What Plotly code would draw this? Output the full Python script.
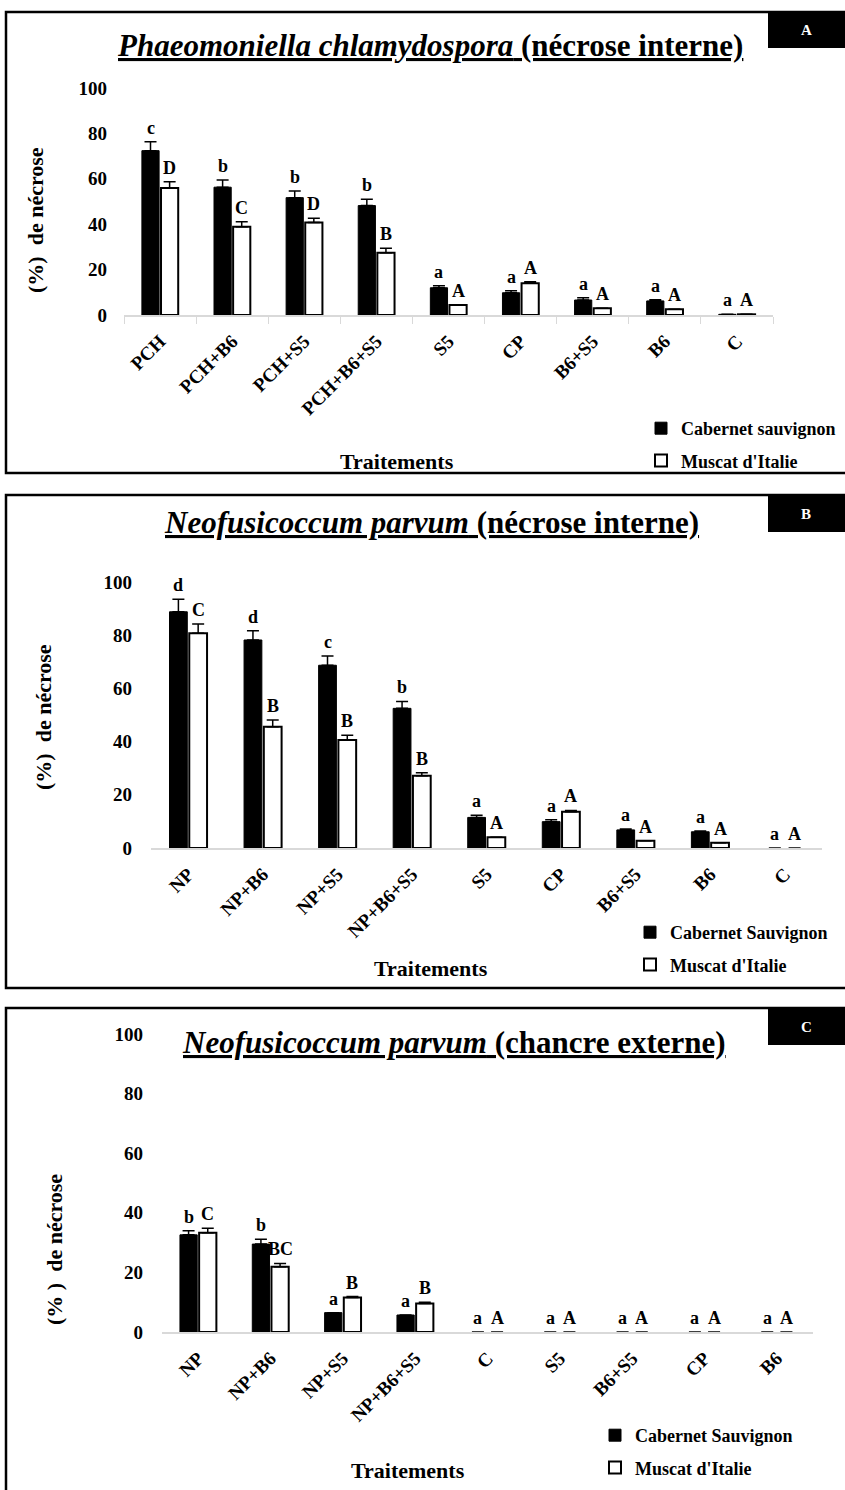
import plotly.graph_objects as go

# ---------------- data ----------------
cats_A = ["PCH", "PCH+B6", "PCH+S5", "PCH+B6+S5", "S5", "CP", "B6+S5", "B6", "C"]
cab_A = [72.4, 56.3, 51.7, 48.2, 12.0, 9.8, 6.6, 6.2, 0.3]
cab_A_err = [3.9, 3.2, 2.9, 2.8, 0.9, 0.9, 1.0, 0.5, 0]
mus_A = [56.0, 38.9, 40.7, 27.4, 4.4, 14.0, 3.0, 2.5, 0.3]
mus_A_err = [2.7, 2.2, 1.9, 2.0, 0, 0.7, 0, 0, 0]
let_cab_A = ["c", "b", "b", "b", "a", "a", "a", "a", "a"]
let_mus_A = ["D", "C", "D", "B", "A", "A", "A", "A", "A"]

cats_B = ["NP", "NP+B6", "NP+S5", "NP+B6+S5", "S5", "CP", "B6+S5", "B6", "C"]
cab_B = [88.8, 78.2, 68.7, 52.5, 11.5, 9.9, 6.8, 6.1, 0]
cab_B_err = [4.7, 3.5, 3.5, 2.6, 0.8, 0.7, 0.3, 0.3, 0]
mus_B = [80.7, 45.6, 40.6, 27.2, 4.0, 13.6, 2.7, 2.0, 0]
mus_B_err = [3.5, 2.5, 1.8, 1.1, 0, 0.5, 0, 0, 0]
let_cab_B = ["d", "d", "c", "b", "a", "a", "a", "a", "a"]
let_mus_B = ["C", "B", "B", "B", "A", "A", "A", "A", "A"]

cats_C = ["NP", "NP+B6", "NP+S5", "NP+B6+S5", "C", "S5", "B6+S5", "CP", "B6"]
cab_C = [32.6, 29.5, 6.5, 5.7, 0, 0, 0, 0, 0]
cab_C_err = [1.4, 1.6, 0, 0, 0, 0, 0, 0, 0]
mus_C = [33.3, 21.9, 11.6, 9.6, 0, 0, 0, 0, 0]
mus_C_err = [1.5, 1.1, 0.3, 0.4, 0, 0, 0, 0, 0]
let_cab_C = ["b", "b", "a", "a", "a", "a", "a", "a", "a"]
let_mus_C = ["C", "BC", "B", "B", "A", "A", "A", "A", "A"]

titles = [
    "<i>Phaeomoniella chlamydospora</i> (nécrose interne)",
    "<i>Neofusicoccum parvum</i> (nécrose interne)",
    "<i>Neofusicoccum parvum</i> (chancre externe)",
]
series_names = [
    ("Cabernet sauvignon", "Muscat d'Italie"),
    ("Cabernet Sauvignon", "Muscat d'Italie"),
    ("Cabernet Sauvignon", "Muscat d'Italie"),
]
panel_tags = ["A", "B", "C"]
ytitles = ["(%)  de nécrose", "(%)  de nécrose", "(% )  de nécrose"]

# ---------------- layout geometry (pixels) ----------------
W, H = 845, 1490
FONT = "Liberation Serif"


def fx(p):
    return p / W


def fy(p):
    return 1 - p / H


panels = [
    dict(cats=cats_A, cab=cab_A, cabe=cab_A_err, mus=mus_A, muse=mus_A_err,
         lc=let_cab_A, lm=let_mus_A,
         xd=(124, 773), yd=(315, 88), border=(12, 473), box=(12, 48),
         title=(430, 45), ytit=(35, 220), xtit=(397, 462), leg=(641, 410), ticks=True,
         thin_zero=False),
    dict(cats=cats_B, cab=cab_B, cabe=cab_B_err, mus=mus_B, muse=mus_B_err,
         lc=let_cab_B, lm=let_mus_B,
         xd=(151, 822), yd=(848, 582), border=(495, 988), box=(495, 532),
         title=(431, 522), ytit=(43, 717), xtit=(431, 968), leg=(630, 914), ticks=False,
         thin_zero=True),
    dict(cats=cats_C, cab=cab_C, cabe=cab_C_err, mus=mus_C, muse=mus_C_err,
         lc=let_cab_C, lm=let_mus_C,
         xd=(162, 813), yd=(1332, 1034), border=(1008, 1520), box=(1008, 1045),
         title=(454, 1042), ytit=(54, 1250), xtit=(408, 1470), leg=(595, 1417), ticks=False,
         thin_zero=True),
]

BARGAP = 0.47
GROUPGAP = 0.1
half = (1 - BARGAP) / 4  # offset of each bar centre from category centre

fig = go.Figure()
annotations = []
shapes = []
layout_axes = {}

for k, p in enumerate(panels):
    sfx = "" if k == 0 else str(k + 1)
    xa, ya = "x" + sfx, "y" + sfx
    legname = "legend" + sfx
    n1, n2 = series_names[k]
    lw_c = [0 if (p["thin_zero"] and v == 0) else 1 for v in p["cab"]]
    lw_m = [0 if (p["thin_zero"] and v == 0) else 2 for v in p["mus"]]
    fig.add_trace(go.Bar(
        x=p["cats"], y=p["cab"], name=n1, xaxis=xa, yaxis=ya,
        marker=dict(color="black", line=dict(color="black", width=lw_c)),
        error_y=dict(type="data", array=p["cabe"], arrayminus=[0] * len(p["cabe"]),
                     symmetric=False, color="black", thickness=1.5, width=6),
        legend=legname, legendgroup=f"c{k}",
    ))
    fig.add_trace(go.Bar(
        x=p["cats"], y=p["mus"], name=n2, xaxis=xa, yaxis=ya,
        marker=dict(color="white", line=dict(color="black", width=lw_m)),
        error_y=dict(type="data", array=p["muse"], arrayminus=[0] * len(p["muse"]),
                     symmetric=False, color="black", thickness=1.5, width=6),
        legend=legname, legendgroup=f"m{k}",
    ))

    x0, x1 = p["xd"]
    yb, yt = p["yd"]
    layout_axes["xaxis" + sfx] = dict(
        domain=[fx(x0), fx(x1)], anchor=ya, type="category",
        categoryorder="array", categoryarray=p["cats"],
        showline=True, linecolor="#d9d9d9", linewidth=1.5,
        ticks="outside" if p["ticks"] else "", tickson="boundaries",
        ticklen=7, tickcolor="#d9d9d9", tickwidth=1,
        tickangle=-45, tickfont=dict(family=FONT, size=19, color="black", weight="bold"),
        showgrid=False, zeroline=False, ticklabelstandoff=6, automargin=False,
    )
    layout_axes["yaxis" + sfx] = dict(
        domain=[fy(yb), fy(yt)], anchor=xa, range=[0, 100], tickvals=[0, 20, 40, 60, 80, 100],
        showgrid=False, zeroline=False, showline=False, ticks="",
        tickfont=dict(family=FONT, size=19, color="black", weight="bold"),
        ticklabelstandoff=16 if k == 0 else 18, automargin=False,
    )

    # significance letters above bars
    for i in range(len(p["cats"])):
        for val, err, lab, off in ((p["cab"][i], p["cabe"][i], p["lc"][i], -half),
                                   (p["mus"][i], p["muse"][i], p["lm"][i], half)):
            annotations.append(dict(
                x=i + off, y=val + err, xref=xa, yref=ya, text=f"<b>{lab}</b>",
                showarrow=False, yanchor="bottom", yshift=2,
                font=dict(family=FONT, size=18, color="black"),
            ))

    # title
    tx, ty = p["title"]
    annotations.append(dict(
        x=fx(tx), y=fy(ty), xref="paper", yref="paper", showarrow=False,
        text=f"<b>{titles[k]}</b>", xanchor="center", yanchor="middle",
        font=dict(family=FONT, size=31, color="black", lineposition="under"),
    ))
    # y title
    yx, yy = p["ytit"]
    annotations.append(dict(
        x=fx(yx), y=fy(yy), xref="paper", yref="paper", showarrow=False,
        text=f"<b>{ytitles[k]}</b>", textangle=-90, xanchor="center", yanchor="middle",
        font=dict(family=FONT, size=22, color="black"),
    ))
    # x title
    xx, xy = p["xtit"]
    annotations.append(dict(
        x=fx(xx), y=fy(xy), xref="paper", yref="paper", showarrow=False,
        text="<b>Traitements</b>", xanchor="center", yanchor="middle",
        font=dict(family=FONT, size=22, color="black"),
    ))
    # panel tag box
    b0, b1 = p["box"]
    shapes.append(dict(type="rect", xref="paper", yref="paper",
                       x0=fx(768), x1=fx(850), y0=fy(b1), y1=fy(b0),
                       fillcolor="black", line=dict(width=0)))
    annotations.append(dict(
        x=fx(806), y=fy((b0 + b1) / 2), xref="paper", yref="paper", showarrow=False,
        text=f"<b>{panel_tags[k]}</b>", xanchor="center", yanchor="middle",
        font=dict(family=FONT, size=15, color="white"),
    ))
    # panel border
    r0, r1 = p["border"]
    shapes.append(dict(type="rect", xref="paper", yref="paper",
                       x0=fx(6), x1=fx(860), y0=fy(r1), y1=fy(r0),
                       line=dict(color="black", width=2.5), fillcolor="rgba(0,0,0,0)"))
    # legend
    lx, ly = p["leg"]
    layout_axes[legname] = dict(
        x=fx(lx), y=fy(ly), xanchor="left", yanchor="top",
        font=dict(family=FONT, size=18, color="black", weight="bold"),
        bgcolor="rgba(0,0,0,0)", tracegroupgap=6, orientation="v",
    )

fig.update_layout(
    width=W, height=H, autosize=False,
    margin=dict(l=0, r=0, t=0, b=0, pad=0, autoexpand=False),
    paper_bgcolor="white", plot_bgcolor="white",
    barmode="group", bargap=BARGAP, bargroupgap=GROUPGAP,
    font=dict(family=FONT, color="black"),
    annotations=annotations, shapes=shapes,
    **layout_axes,
)

post = (
    "var gd=document.getElementById('{plot_id}');"
    "gd.style.position='absolute';gd.style.top='0px';gd.style.left='0px';"
    "document.body.style.margin='0';document.body.style.overflow='hidden';"
)
fig.write_html("out.html", config={"displayModeBar": False}, post_script=post)
